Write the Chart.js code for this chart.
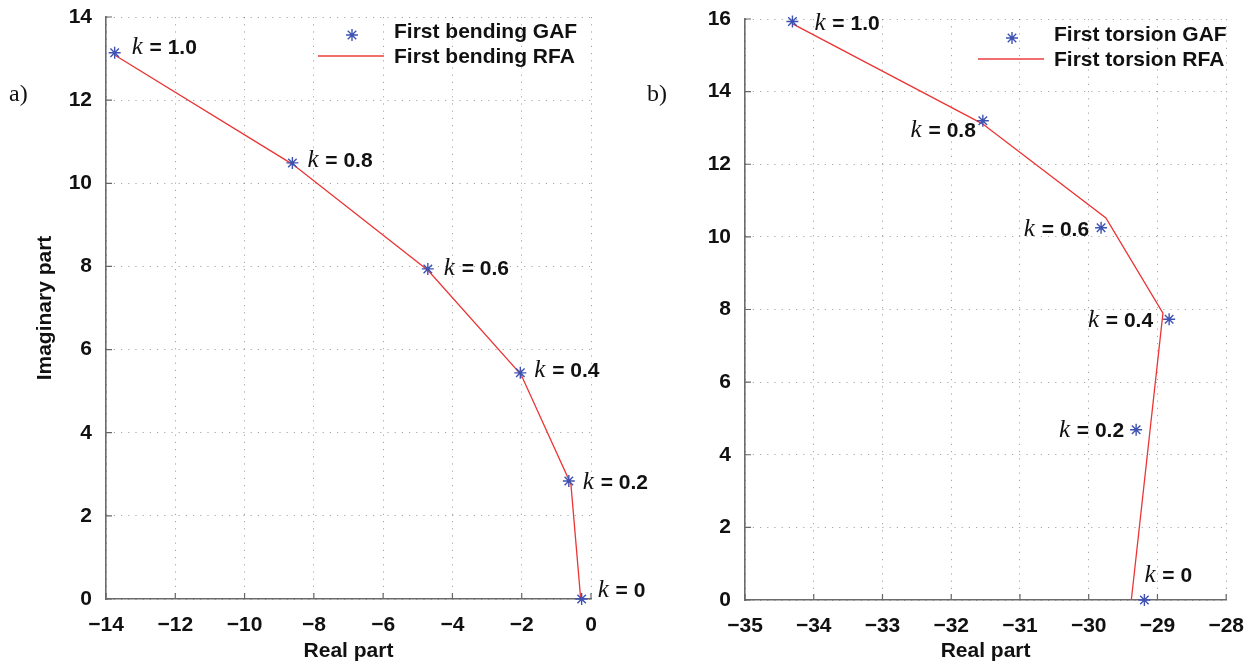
<!DOCTYPE html>
<html>
<head>
<meta charset="utf-8">
<script src="https://cdn.jsdelivr.net/npm/chart.js@4.4.1/dist/chart.umd.min.js"></script>
<style>
  body { margin: 0; background: #fff; }
  #wrap { position: relative; width: 1258px; height: 666px; }
  canvas { position: absolute; top: 0; }
</style>
</head>
<body>
<div id="wrap">
  <canvas id="chart-a" width="690" height="666" style="left:0"></canvas>
  <canvas id="chart-b" width="629" height="666" style="left:629px"></canvas>
</div>
<script>
// k values shown next to the GAF points
var kValues = ['1.0', '0.8', '0.6', '0.4', '0.2', '0']

// a) first bending mode
var bendGafRe = [-13.75, -8.62, -4.71, -2.04, -0.64, -0.27]
var bendGafIm = [13.14, 10.49, 7.94, 5.44, 2.84, 0]
var bendRfaRe = [-13.74, -8.60, -4.70, -2.02, -0.58, -0.30]
var bendRfaIm = [13.08, 10.45, 7.90, 5.40, 2.76, 0.03]

// b) first torsion mode
var torsGafRe = [-34.31, -31.54, -29.82, -28.83, -29.31, -29.19]
var torsGafIm = [15.93, 13.20, 10.25, 7.73, 4.69, 0]
var torsRfaRe = [-34.30, -31.55, -29.75, -28.92, -29.38]
var torsRfaIm = [15.86, 13.12, 10.52, 7.90, 0]

// tick labels
var bendTicksX = [-14, -12, -10, -8, -6, -4, -2, 0]
var bendTicksY = [0, 2, 4, 6, 8, 10, 12, 14]
var torsTicksX = [-35, -34, -33, -32, -31, -30, -29, -28]
var torsTicksY = [0, 2, 4, 6, 8, 10, 12, 14, 16]

var GAF_COLOR = 'rgb(62, 82, 178)'
var RFA_COLOR = 'rgb(236, 52, 52)'
var SANS = '"Liberation Sans", Arial, sans-serif'
var SERIF = '"Liberation Serif", "Times New Roman", serif'

Chart.defaults.font.family = SANS
Chart.defaults.font.size = 21
Chart.defaults.font.weight = 'bold'
Chart.defaults.color = '#111'

function pts(xs, ys) {
    return xs.map((x, i) => ({ x: x, y: ys[i] }))
}

function minusSign(v) {
    return String(v).replace('-', '\u2212')
}

// small ticks pointing into the plot, like matlab
var innerTicks = {
    id: 'innerTicks',
    beforeDatasetsDraw(chart) {
        const { ctx, chartArea, scales } = chart
        ctx.save()
        ctx.strokeStyle = '#666'
        ctx.lineWidth = 1.2
        ctx.beginPath()
        scales.x.ticks.forEach(t => {
            const px = scales.x.getPixelForValue(t.value)
            ctx.moveTo(px, chartArea.bottom)
            ctx.lineTo(px, chartArea.bottom - 6)
        })
        scales.y.ticks.forEach(t => {
            const py = scales.y.getPixelForValue(t.value)
            ctx.moveTo(chartArea.left, py)
            ctx.lineTo(chartArea.left + 6, py)
        })
        ctx.stroke()
        ctx.restore()
    }
}

function drawKLabel(ctx, x, y, txt, align) {
    const rest = ' = ' + txt
    ctx.font = 'italic 25px ' + SERIF
    const kw = ctx.measureText('k').width
    ctx.font = 'bold 21px ' + SANS
    const rw = ctx.measureText(rest).width
    const x0 = align === 'right' ? x - kw - rw : x
    ctx.textAlign = 'left'
    ctx.textBaseline = 'alphabetic'
    ctx.fillStyle = '#111'
    ctx.font = 'italic 25px ' + SERIF
    ctx.fillText('k', x0, y)
    ctx.font = 'bold 21px ' + SANS
    ctx.fillText(rest, x0 + kw + 1, y)
}

// k = ... labels, the panel letter and the legend box
var extras = {
    id: 'extras',
    afterDatasetsDraw(chart, args, opts) {
        const { ctx, chartArea, scales } = chart
        const gaf = chart.data.datasets[0]
        const rfa = chart.data.datasets[1]
        ctx.save()

        gaf.data.forEach((p, i) => {
            const off = opts.labelOffsets[i]
            const px = scales.x.getPixelForValue(p.x)
            const py = scales.y.getPixelForValue(p.y)
            drawKLabel(ctx, px + off[0], py + off[1], kValues[i], off[2])
        })

        ctx.font = '24px ' + SERIF
        ctx.fillStyle = '#111'
        ctx.textAlign = 'left'
        ctx.textBaseline = 'alphabetic'
        ctx.fillText(opts.panel, opts.panelX, 101)

        // legend
        const lx = chartArea.left + opts.legendX
        const row1 = chartArea.top + opts.legendY
        const row2 = row1 + 21
        drawStar(ctx, lx + 34, row1, 6, gaf.borderColor)
        ctx.strokeStyle = 'rgb(240, 110, 110)'
        ctx.lineWidth = 1.8
        ctx.beginPath()
        ctx.moveTo(lx, row2)
        ctx.lineTo(lx + 66, row2)
        ctx.stroke()
        ctx.fillStyle = '#111'
        ctx.font = 'bold 21px ' + SANS
        ctx.fillText(gaf.label, lx + 76, row1 + 3)
        ctx.fillText(rfa.label, lx + 76, row2 + 7)
        ctx.restore()
    }
}

function drawStar(ctx, x, y, r, color) {
    ctx.save()
    ctx.strokeStyle = color
    ctx.lineWidth = 1.4
    ctx.beginPath()
    for (let a = 0; a < 4; a++) {
        const ang = a * Math.PI / 4
        ctx.moveTo(x - r * Math.cos(ang), y - r * Math.sin(ang))
        ctx.lineTo(x + r * Math.cos(ang), y + r * Math.sin(ang))
    }
    ctx.stroke()
    ctx.restore()
}

function axisOpts(ticks, min, max, extra) {
    return Object.assign({
        type: 'linear',
        min: min,
        max: max,
        afterBuildTicks: s => { s.ticks = ticks.map(v => ({ value: v })) },
        grid: { color: 'rgba(0,0,0,0.35)', lineWidth: 1, drawTicks: false },
        border: { display: true, color: '#6b6b6b', width: 1.6, dash: [1.2, 6] },
        ticks: { padding: 14, callback: v => minusSign(v) }
    }, extra)
}

function makeChart(id, cfg) {
    const ctx = document.getElementById(id).getContext('2d')
    return new Chart(ctx, {
        type: 'scatter',
        data: {
            datasets: [{
                label: cfg.gafLabel,
                data: cfg.gaf,
                showLine: false,
                pointStyle: 'star',
                pointRadius: 6,
                pointBorderWidth: 1.4,
                borderColor: GAF_COLOR,
                backgroundColor: GAF_COLOR,
                clip: false,
                order: 0
            }, {
                label: cfg.rfaLabel,
                data: cfg.rfa,
                showLine: true,
                pointRadius: 0,
                borderWidth: 1.3,
                borderColor: RFA_COLOR,
                backgroundColor: RFA_COLOR,
                order: 1
            }]
        },
        options: {
            responsive: false,
            animation: false,
            events: [],
            layout: { padding: cfg.padding },
            plugins: {
                legend: { display: false },
                tooltip: { enabled: false },
                extras: cfg.extras
            },
            scales: {
                x: axisOpts(cfg.ticksX, cfg.ticksX[0], cfg.ticksX[cfg.ticksX.length - 1], {
                    afterFit: s => { s.height = cfg.xHeight },
                    title: { display: true, text: 'Real part', padding: { top: 0, bottom: 2 } }
                }),
                y: axisOpts(cfg.ticksY, cfg.ticksY[0], cfg.ticksY[cfg.ticksY.length - 1], {
                    afterFit: s => {
                        s.width = cfg.yWidth
                        // let layout.padding decide where the plot starts
                        s.paddingTop = 0
                        s.paddingBottom = 0
                    },
                    title: { display: cfg.yTitle, text: 'Imaginary part', padding: { top: 33, bottom: 0 } }
                })
            }
        },
        plugins: [innerTicks, extras]
    })
}

makeChart('chart-a', {
    gaf: pts(bendGafRe, bendGafIm),
    rfa: pts(bendRfaRe, bendRfaIm),
    gafLabel: 'First bending GAF',
    rfaLabel: 'First bending RFA',
    ticksX: bendTicksX,
    ticksY: bendTicksY,
    padding: { top: 17, right: 99, left: 0, bottom: 0 },
    xHeight: 67,
    yWidth: 106,
    yTitle: true,
    extras: {
        panel: 'a)',
        panelX: 9,
        legendX: 212,
        legendY: 18,
        labelOffsets: [[17, 1, 'left'], [15, 4, 'left'], [16, 6, 'left'], [14, 4, 'left'], [14, 8, 'left'], [16, -2, 'left']]
    }
})

makeChart('chart-b', {
    gaf: pts(torsGafRe, torsGafIm),
    rfa: pts(torsRfaRe, torsRfaIm),
    gafLabel: 'First torsion GAF',
    rfaLabel: 'First torsion RFA',
    ticksX: torsTicksX,
    ticksY: torsTicksY,
    padding: { top: 19, right: 29, left: 0, bottom: 0 },
    xHeight: 66,
    yWidth: 116,
    yTitle: false,
    extras: {
        panel: 'b)',
        panelX: 18,
        legendX: 233,
        legendY: 19,
        labelOffsets: [[22, 8, 'left'], [-8, 16, 'right'], [-13, 8, 'right'], [-17, 8, 'right'], [-13, 7, 'right'], [0, -18, 'left']]
    }
})
</script>
</body>
</html>
